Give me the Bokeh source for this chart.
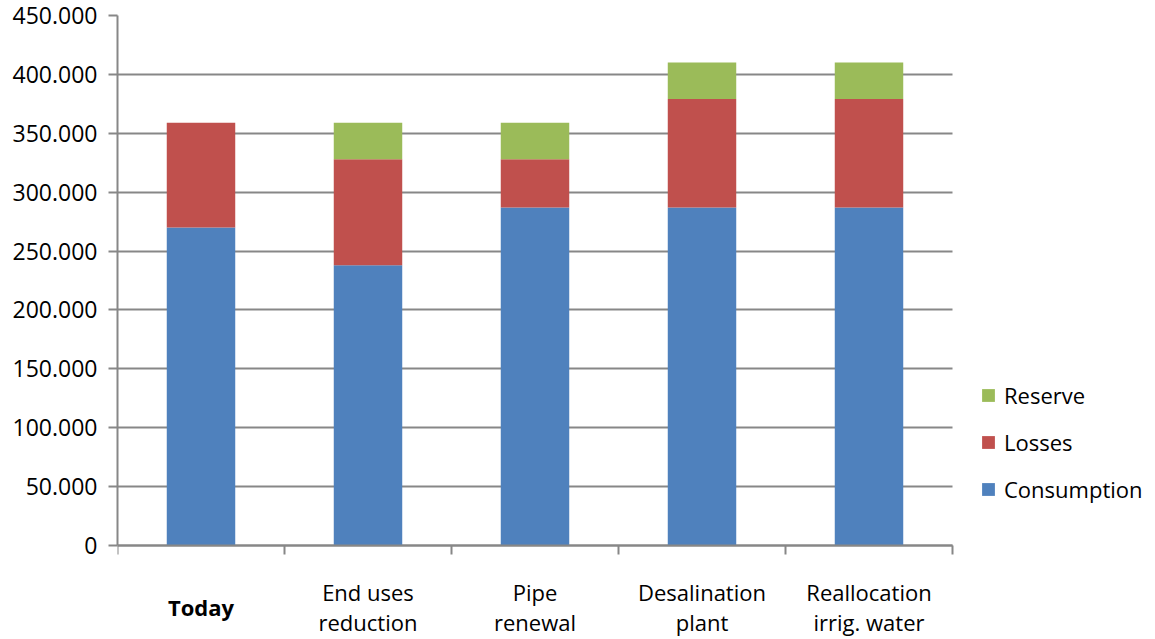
from bokeh.plotting import figure
from bokeh.models import Range1d, FixedTicker, Label, Legend, LegendItem, ColumnDataSource, LinearAxis, Grid
from bokeh.embed import file_html
from bokeh.resources import INLINE

categories = ["Today", "End uses\nreduction", "Pipe\nrenewal", "Desalination\nplant", "Reallocation\nirrig. water"]
consumption = [270000, 238000, 287000, 287000, 287000]
losses = [89000, 90000, 41000, 92000, 92000]
reserve = [0, 31000, 31000, 31000, 31000]
y_ticks = [0, 50000, 100000, 150000, 200000, 250000, 300000, 350000, 400000, 450000]
y_tick_labels = ["0", "50.000", "100.000", "150.000", "200.000", "250.000",
                 "300.000", "350.000", "400.000", "450.000"]

series_names = ["Consumption", "Losses", "Reserve"]
colors = ["#4F81BD", "#C0504D", "#9BBB59"]

FONT = "Open Sans"
GRAY = "#878787"

# layout (pixels)
W, H = 1152, 639
FRAME_LEFT, FRAME_TOP = 117, 15
AXIS_RIGHT = 952      # pixel where the category axis ends
ZERO_Y = 545          # pixel of the zero line
y_max = 450000
n = len(categories)

units_per_px_y = y_max / (ZERO_Y - FRAME_TOP)
y_min = -(H - ZERO_Y) * units_per_px_y
units_per_px_x = n / (AXIS_RIGHT - FRAME_LEFT)
x_max = n + (W - AXIS_RIGHT) * units_per_px_x

x_centers = [i + 0.5 for i in range(n)]
source = ColumnDataSource(dict(x=x_centers, Consumption=consumption, Losses=losses, Reserve=reserve))

p = figure(width=W, height=H, output_backend="svg", toolbar_location=None,
           x_range=Range1d(0, x_max), y_range=Range1d(y_min, y_max),
           x_axis_location=None,
           min_border_left=FRAME_LEFT, min_border_right=0,
           min_border_top=FRAME_TOP, min_border_bottom=0)
p.outline_line_color = None
p.background_fill_color = "white"
p.border_fill_color = "white"

renderers = p.vbar_stack(series_names, x="x", width=0.41, source=source,
                         color=colors, line_color=None)

# grid
p.xgrid.visible = False
g = p.ygrid[0]
g.ticker = FixedTicker(ticks=y_ticks)
g.grid_line_color = GRAY
g.grid_line_width = 2
if "cross_bounds" in Grid.properties():
    g.cross_bounds = (0, n)

# y axis
ya = p.yaxis[0]
ya.ticker = FixedTicker(ticks=y_ticks)
ya.bounds = (0, y_max)
ya.major_label_overrides = {t: l for t, l in zip(y_ticks, y_tick_labels)}
ya.axis_line_color = GRAY
ya.axis_line_width = 2
ya.major_tick_line_color = GRAY
ya.major_tick_line_width = 2
ya.major_tick_in = 0
ya.major_tick_out = 9
ya.minor_tick_line_color = None
ya.major_label_standoff = 11
ya.major_label_text_font = FONT
ya.major_label_text_font_size = "23px"
ya.major_label_text_color = "black"

# x axis at zero: ticks at category boundaries, labels drawn separately
x_bounds = list(range(n + 1))
xa = LinearAxis(fixed_location=0, bounds=(0, n), ticker=FixedTicker(ticks=x_bounds))
xa.major_label_overrides = {t: "" for t in x_bounds}
xa.axis_line_color = GRAY
xa.axis_line_width = 2
xa.major_tick_line_color = GRAY
xa.major_tick_line_width = 2
xa.major_tick_in = 0
xa.major_tick_out = 9
xa.minor_tick_line_color = None
p.add_layout(xa, "below")

# category labels
for i, cat in enumerate(categories):
    lab = Label(x=x_centers[i], y=-61 * units_per_px_y, text=cat,
                text_align="center", text_baseline="middle",
                text_font=FONT, text_font_size="22px", text_color="black",
                text_line_height=1.0,
                text_font_style="bold" if i == 0 else "normal")
    p.add_layout(lab)

# legend
items = [LegendItem(label=series_names[k], renderers=[renderers[k]]) for k in (2, 1, 0)]
legend = Legend(items=items, location=(980 - FRAME_LEFT, H - 504), orientation="vertical",
                glyph_width=16, glyph_height=16, label_height=20,
                label_standoff=8, spacing=17, padding=0, margin=0,
                label_text_font=FONT, label_text_font_size="22px",
                label_text_color="black", border_line_color=None,
                background_fill_alpha=0)
p.add_layout(legend, "center")

open("out.html", "w").write(file_html(p, INLINE))
